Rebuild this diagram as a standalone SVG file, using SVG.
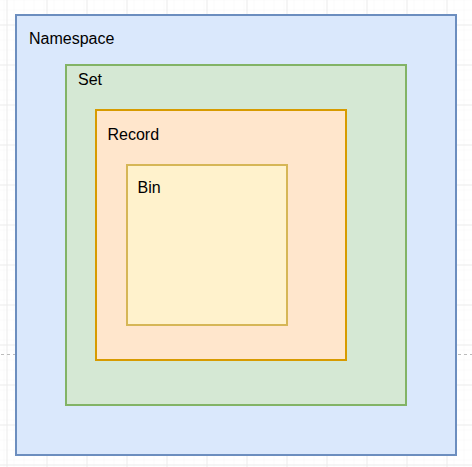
<svg xmlns="http://www.w3.org/2000/svg" width="472" height="467" viewBox="0 0 472 467">
<style>
.lbl{font-family:"Liberation Sans",Arial,sans-serif;font-size:16px;fill:#000}
.box{stroke-width:2}
</style>
<defs>
<pattern id="minor" patternUnits="userSpaceOnUse" x="7" y="5" width="10" height="10">
<path d="M0 0H10M0 0V10" fill="none" stroke="#f6f6f6" stroke-width="1"/>
</pattern>
<pattern id="major" patternUnits="userSpaceOnUse" x="6.5" y="24.5" width="40" height="40">
<rect width="40" height="40" fill="url(#minor)"/>
<path d="M0 0.5H40M0.5 0V40" fill="none" stroke="#ebebeb" stroke-width="1"/>
</pattern>
</defs>
<rect width="472" height="467" fill="#fff"/>
<rect width="472" height="467" fill="url(#major)"/>
<g id="connectors">
<path d="M1 354.5H15M458 354.5H472" stroke="#bbb" stroke-width="1" stroke-dasharray="3 3" fill="none"/>
</g>
<g id="namespace">
<rect class="box" x="16" y="15" width="440" height="440" fill="#dae8fc" stroke="#6c8ebf"/>
<text class="lbl" x="29" y="44">Namespace</text>
</g>
<g id="set">
<rect class="box" x="66" y="65" width="340" height="340" fill="#d5e8d4" stroke="#82b366"/>
<text class="lbl" x="78" y="84.5">Set</text>
</g>
<g id="record">
<rect class="box" x="96" y="110" width="250" height="250" fill="#ffe6cc" stroke="#d79b00"/>
<text class="lbl" x="107.5" y="139.5">Record</text>
</g>
<g id="bin">
<rect class="box" x="127" y="165" width="160" height="160" fill="#fff2cc" stroke="#d6b656"/>
<text class="lbl" x="137.5" y="193">Bin</text>
</g>
</svg>
